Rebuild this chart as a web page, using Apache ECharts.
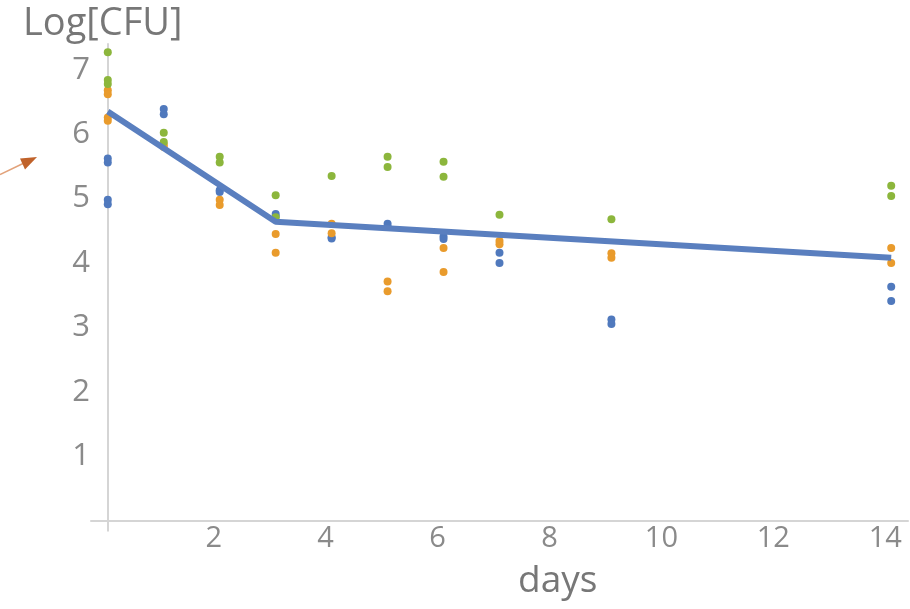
<!DOCTYPE html>
<html>
<head>
<meta charset="utf-8">
<script src="https://cdn.jsdelivr.net/npm/echarts@6/dist/echarts.min.js"></script>
<style>html,body{margin:0;padding:0;background:#fff;}#c{width:910px;height:609px;}</style>
</head>
<body>
<div id="c"></div>
<script>
// Replicate A (blue)
const blueDays   = [0, 0, 0, 0, 1, 1, 2, 2, 3, 3, 4, 4, 5, 5, 6, 6, 7, 7, 9, 9, 14, 14];
const blueVals   = [5.62, 5.56, 4.98, 4.91, 6.39, 6.31, 5.13, 5.10, 4.76, 4.72, 4.40, 4.38, 4.61, 4.56, 4.41, 4.37, 4.16, 4.00, 3.12, 3.05, 3.63, 3.41];
// Replicate B (orange)
const orangeDays = [0, 0, 0, 0, 1, 1, 2, 2, 3, 3, 4, 4, 5, 5, 6, 6, 7, 7, 9, 9, 14, 14];
const orangeVals = [6.68, 6.62, 6.26, 6.21, 5.84, 5.80, 4.98, 4.90, 4.45, 4.16, 4.61, 4.46, 3.71, 3.56, 4.23, 3.86, 4.34, 4.29, 4.15, 4.08, 4.23, 4.00];
// Replicate C (green)
const greenDays  = [0, 0, 0, 1, 1, 2, 2, 3, 3, 4, 5, 5, 6, 6, 7, 9, 14, 14];
const greenVals  = [7.27, 6.84, 6.78, 6.02, 5.88, 5.65, 5.56, 5.05, 4.71, 5.35, 5.65, 5.49, 5.57, 5.34, 4.75, 4.68, 5.20, 5.04];
// Fitted model line
const fitDays = [0, 3, 14];
const fitVals = [6.35, 4.64, 4.08];
// Tick labels
const xTickLabels = [2, 4, 6, 8, 10, 12, 14];
const yTickLabels = [1, 2, 3, 4, 5, 6, 7];

const zip = (a, b) => a.map((v, i) => [v, b[i]]);
const axisGray = '#d5d5d5';
const labelGray = '#8a8a8a';
const font = '"Open Sans", "Noto Sans", sans-serif';

const chart = echarts.init(document.getElementById('c'), null, {renderer: 'canvas'});
chart.setOption({
  animation: false,
  backgroundColor: '#ffffff',
  title: [
    {text: 'Log[CFU]', left: 18, top: 0, textStyle: {fontFamily: font, fontSize: 38, fontWeight: 'normal', color: '#777777'}},
    {text: 'days', left: 513, top: 558, textStyle: {fontFamily: font, fontSize: 37, fontWeight: 'normal', color: '#777777'}}
  ],
  grid: {left: 91, right: 2, top: 44, bottom: 88.5, containLabel: false},
  xAxis: {
    type: 'value', min: -0.3, max: 14.3,
    splitLine: {show: false},
    axisLine: {show: true, lineStyle: {color: axisGray, width: 2}},
    axisTick: {show: true, customValues: [0], length: 11, lineStyle: {color: axisGray, width: 2}},
    axisLabel: {customValues: xTickLabels, fontFamily: font, fontSize: 29, color: labelGray, margin: 4, padding: [0, 12, 0, 0]}
  },
  yAxis: {
    type: 'value', min: 0, max: 7.4,
    splitLine: {show: false},
    axisLine: {show: true, onZero: true, lineStyle: {color: axisGray, width: 2}},
    axisTick: {show: false},
    axisLabel: {customValues: yTickLabels, fontFamily: font, fontSize: 31, color: labelGray, margin: 1}
  },
  series: [
    {type: 'scatter', data: zip(blueDays, blueVals), symbolSize: 8, itemStyle: {color: '#5079bd', opacity: 1}, z: 2},
    {type: 'scatter', data: zip(orangeDays, orangeVals), symbolSize: 8, itemStyle: {color: '#e99b2c', opacity: 1}, z: 2},
    {type: 'scatter', data: zip(greenDays, greenVals), symbolSize: 8, itemStyle: {color: '#8cb63c', opacity: 1}, z: 2},
    {type: 'line', data: zip(fitDays, fitVals), showSymbol: false, symbol: 'none', lineStyle: {color: '#5a7fbf', width: 6}, z: 3}
  ],
  graphic: [
    {type: 'line', shape: {x1: 0, y1: 174.5, x2: 23, y2: 163.5}, style: {stroke: '#e2a27a', lineWidth: 1.5}, z: 10},
    {type: 'polygon', shape: {points: [[37, 157], [20, 158.5], [25, 169.5]]}, style: {fill: '#c0622a'}, z: 10}
  ]
});
</script>
</body>
</html>
